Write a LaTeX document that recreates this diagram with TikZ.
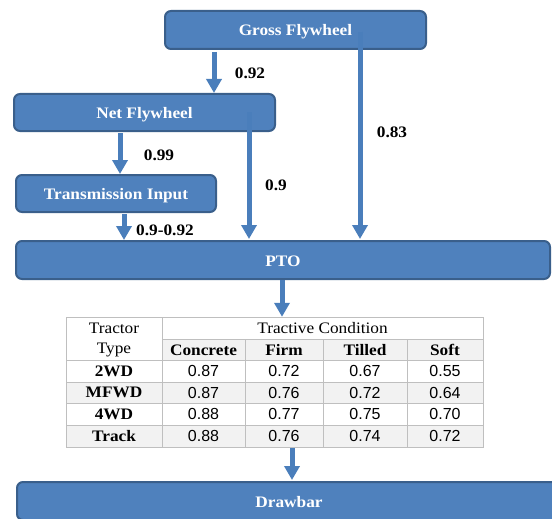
\documentclass[tikz,border=0pt]{standalone}
\usepackage{fontspec}
\setmainfont[FakeStretch=1.08]{Liberation Serif}
\newfontfamily\numfont{Liberation Sans}
\usetikzlibrary{arrows.meta}
\definecolor{boxfill}{HTML}{4F81BD}
\definecolor{boxline}{HTML}{3A5F8B}
\definecolor{arrcol}{HTML}{4A7EBB}
\definecolor{gridcol}{HTML}{BFBFBF}
\definecolor{cellgray}{HTML}{F2F2F2}
\begin{document}
\begin{tikzpicture}[x=1pt,y=-1pt,
  box/.style={draw=boxline, fill=boxfill, line width=2pt, rounded corners=6pt,
    text=white, font=\fontsize{16}{18}\selectfont\bfseries, inner sep=0pt,
    text height=12pt, text depth=0pt},
  arr/.style={draw=arrcol, line width=5pt, -{Triangle[width=15pt,length=14pt]}},
  lbl/.style={font=\fontsize{16}{18}\selectfont\bfseries, inner sep=0pt},
  hcell/.style={font=\fontsize{16}{18}\selectfont, inner sep=0pt},
  bcell/.style={font=\fontsize{16}{18}\selectfont\bfseries, inner sep=0pt},
  ncell/.style={font=\fontsize{16}{18}\selectfont\numfont, inner sep=0pt},
  grid/.style={draw=gridcol, line width=1pt}
]
\useasboundingbox (0,0) rectangle (552,519);

% boxes
\node[box, minimum width=261pt, minimum height=38pt] (gross) at (295.5,30) {Gross Flywheel};
\node[box, minimum width=261pt, minimum height=37pt] (net) at (144.5,112.5) {Net Flywheel};
\node[box, minimum width=200pt, minimum height=37pt] (trans) at (116,193.5) {Transmission Input};
\node[box, minimum width=534pt, minimum height=38pt] (pto) at (283,260) {PTO};
\node[box, minimum width=544pt, minimum height=38pt] (drawbar) at (289,501) {Drawbar};

% x positions of connectors
\coordinate (xa) at (214,0);
\coordinate (xb) at (120,0);
\coordinate (xc) at (124,0);
\coordinate (xd) at (249,0);
\coordinate (xe) at (360,0);
\coordinate (xf) at (282,0);
\coordinate (xg) at (292,0);

% table frame node
\node[minimum width=417pt, minimum height=130pt, inner sep=0pt] (tbl) at (274.5,382) {};

% connectors
\draw[arr] ([yshift=-2pt]gross.south -| xa) -- (net.north -| xa);
\draw[arr] ([yshift=-1pt]net.south -| xb) -- (trans.north -| xb);
\draw[arr] ([yshift=-1pt]trans.south -| xc) -- (pto.north -| xc);
\draw[arr] (net.center -| xd) -- ([yshift=1pt]pto.north -| xd);
\draw[arr] ([yshift=-2pt]gross.center -| xe) -- ([yshift=1pt]pto.north -| xe);
\draw[arr] (pto.south -| xf) -- (tbl.north -| xf);
\draw[arr] ([yshift=-1pt]tbl.south -| xg) -- ([yshift=1pt]drawbar.north -| xg);

% labels
\node[lbl] (l1) at (250,73) {0.92};
\node[lbl] (l2) at (392,132) {0.83};
\node[lbl] (l3) at (159,155) {0.99};
\node[lbl] (l4) at (276,185) {0.9};
\node[lbl] (l5) at (165,230) {0.9-0.92};

% table shading
\fill[cellgray] (162,339) rectangle (483,360);
\fill[cellgray] (66,382) rectangle (483,403);
\fill[cellgray] (66,425) rectangle (483,447);
% table grid
\draw[grid] (66,317) rectangle (483,447);
\draw[grid] (162,317) -- (162,447);
\foreach \xx in {245,323,407} \draw[grid] (\xx,339) -- (\xx,447);
\draw[grid] (162,339) -- (483,339);
\foreach \yy in {360,382,403,425} \draw[grid] (66,\yy) -- (483,\yy);

% table text
\node[hcell] (t1) at (114,328) {Tractor};
\node[hcell] (t2) at (114,350) {Type};
\node[hcell] (t3) at (322.5,328) {Tractive Condition};
\node[bcell] (h1) at (203.5,350) {Concrete};
\node[bcell] (h2) at (284,350) {Firm};
\node[bcell] (h3) at (365,350) {Tilled};
\node[bcell] (h4) at (445,350) {Soft};

\node[bcell] (r1) at (114,371) {2WD};
\node[ncell] (r1a) at (203.5,371) {0.87};
\node[ncell] (r1b) at (284,371) {0.72};
\node[ncell] (r1c) at (365,371) {0.67};
\node[ncell] (r1d) at (445,371) {0.55};

\node[bcell] (r2) at (114,392.5) {MFWD};
\node[ncell] (r2a) at (203.5,392.5) {0.87};
\node[ncell] (r2b) at (284,392.5) {0.76};
\node[ncell] (r2c) at (365,392.5) {0.72};
\node[ncell] (r2d) at (445,392.5) {0.64};

\node[bcell] (r3) at (114,414) {4WD};
\node[ncell] (r3a) at (203.5,414) {0.88};
\node[ncell] (r3b) at (284,414) {0.77};
\node[ncell] (r3c) at (365,414) {0.75};
\node[ncell] (r3d) at (445,414) {0.70};

\node[bcell] (r4) at (114,436) {Track};
\node[ncell] (r4a) at (203.5,436) {0.88};
\node[ncell] (r4b) at (284,436) {0.76};
\node[ncell] (r4c) at (365,436) {0.74};
\node[ncell] (r4d) at (445,436) {0.72};
\end{tikzpicture}
\end{document}
